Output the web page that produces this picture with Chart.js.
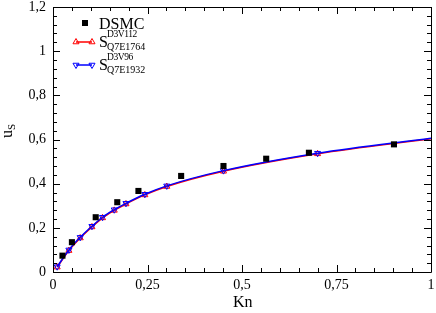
<!DOCTYPE html>
<html>
<head>
<meta charset="utf-8">
<script src="https://cdn.jsdelivr.net/npm/chart.js@4.4.1/dist/chart.umd.min.js"></script>
<style>
body { margin: 0; background: #fff; }
#chartjs { position: relative; width: 436px; height: 313px; font-family: "Liberation Serif", serif; color: #000; }
#chartjs canvas { position: absolute; left: 0; top: 0; }
.txt { position: absolute; white-space: nowrap; line-height: 1; }
#ytitle { left: -13px; top: 121px; width: 40px; height: 20px; line-height: 20px; font-size: 16px; text-align: center; transform: rotate(-90deg); }
#ytitle sub { font-size: 11px; vertical-align: -3px; }
</style>
</head>
<body>
<div id="chartjs">
	<canvas id="myChart" width="436" height="313"></canvas>
	<div id="ytitle" class="txt">u<sub>S</sub></div>
	<div class="txt" style="left:233px;top:294px;font-size:16px;">Kn</div>
	<div class="txt" style="left:99px;top:16px;font-size:16px;">DSMC</div>
	<div class="txt" style="left:99px;top:34px;font-size:16px;">S</div>
	<div class="txt" style="left:107px;top:30px;font-size:9.5px;letter-spacing:-0.4px;">D3V112</div>
	<div class="txt" style="left:107px;top:42px;font-size:10px;">Q7E1764</div>
	<div class="txt" style="left:99px;top:57px;font-size:16px;">S</div>
	<div class="txt" style="left:107px;top:53px;font-size:9.5px;letter-spacing:-0.4px;">D3V96</div>
	<div class="txt" style="left:107px;top:65px;font-size:10px;">Q7E1932</div>
</div>
<script>
// axes
const xTicks = [0, 0.25, 0.5, 0.75, 1];
const xTickLabels = ["0", "0,25", "0,5", "0,75", "1"];
const yTicks = [0, 0.2, 0.4, 0.6, 0.8, 1, 1.2];
const yTickLabels = ["0", "0,2", "0,4", "0,6", "0,8", "1", "1,2"];

// DSMC points
const dsmcKn = [0.025, 0.05, 0.113, 0.17, 0.226, 0.339, 0.451, 0.564, 0.677, 0.902];
const dsmcU = [0.074, 0.135, 0.248, 0.316, 0.367, 0.435, 0.480, 0.513, 0.540, 0.578];

// model curves (last point has no marker)
const curveKn = [0.011, 0.042, 0.072, 0.103, 0.131, 0.162, 0.193, 0.243, 0.301, 0.451, 0.700, 1.0];
const uD3V112 = [0.022, 0.097, 0.154, 0.204, 0.245, 0.279, 0.308, 0.349, 0.387, 0.456, 0.535, 0.603];
const uD3V96 = [0.024, 0.100, 0.157, 0.207, 0.248, 0.282, 0.311, 0.352, 0.390, 0.459, 0.538, 0.606];

function toPoints(xs, ys) {
	let pts = [];
	for (let i = 0; i < xs.length; i++) {
		pts.push({x: xs[i], y: ys[i]});
	}
	return pts;
}

function markerRadius(n, r) {
	let arr = [];
	for (let i = 0; i < n; i++) arr.push(i == n - 1 ? 0 : r);
	return arr;
}

// frame with inward ticks on all four sides + legend symbols
const framePlugin = {
	id: "frame",
	afterDatasetsDraw(chart) {
		const ctx = chart.ctx;
		const a = chart.chartArea;
		const xs = chart.scales.x, ys = chart.scales.y;
		ctx.save();
		ctx.strokeStyle = "#000";
		ctx.lineWidth = 1;
		ctx.beginPath();
		ctx.rect(Math.round(a.left) + 0.5, Math.round(a.top) + 0.5, Math.round(a.right - a.left), Math.round(a.bottom - a.top));
		ctx.stroke();
		ctx.beginPath();
		for (let i = 0; i <= 20; i++) {
			let v = i * 0.05;
			let len = (i % 5 == 0) ? 7 : 4;
			let px = Math.round(xs.getPixelForValue(v)) + 0.5;
			ctx.moveTo(px, a.bottom); ctx.lineTo(px, a.bottom - len);
			ctx.moveTo(px, a.top); ctx.lineTo(px, a.top + len);
		}
		for (let i = 0; i <= 30; i++) {
			let v = i * 0.04;
			let len = (i % 5 == 0) ? 7 : 4;
			let py = Math.round(ys.getPixelForValue(v)) + 0.5;
			ctx.moveTo(a.left, py); ctx.lineTo(a.left + len, py);
			ctx.moveTo(a.right, py); ctx.lineTo(a.right - len, py);
		}
		ctx.stroke();

		// legend symbols
		ctx.fillStyle = "#000";
		ctx.fillRect(82, 20, 6, 6);
		const rows = [{y: 42, color: "#ff0000", rot: 0}, {y: 65, color: "#0000ff", rot: 180}];
		rows.forEach(r => {
			ctx.strokeStyle = r.color;
			ctx.lineWidth = 1.5;
			ctx.beginPath();
			ctx.moveTo(76, r.y); ctx.lineTo(92, r.y);
			ctx.stroke();
			ctx.lineWidth = 1;
			ctx.fillStyle = "rgba(0,0,0,0)";
			[76, 92].forEach(x => {
				Chart.helpers.drawPoint(ctx, {pointStyle: "triangle", rotation: r.rot, radius: 3.5, borderWidth: 1}, x, r.y);
			});
		});
		ctx.restore();
	}
};

const data = {
	datasets: [{
		label: "DSMC",
		data: toPoints(dsmcKn, dsmcU),
		showLine: false,
		pointStyle: "rect",
		pointRadius: 4.3,
		pointBackgroundColor: "#000",
		pointBorderColor: "#000",
		pointBorderWidth: 0,
		order: 0
	}, {
		label: "S D3V96 Q7E1932",
		data: toPoints(curveKn, uD3V96),
		borderColor: "#0000ff",
		borderWidth: 1.5,
		cubicInterpolationMode: "monotone",
		pointStyle: "triangle",
		pointRotation: 180,
		pointRadius: markerRadius(curveKn.length, 3.5),
		pointBackgroundColor: "rgba(0,0,0,0)",
		pointBorderColor: "#0000ff",
		pointBorderWidth: 1,
		order: 1
	}, {
		label: "S D3V112 Q7E1764",
		data: toPoints(curveKn, uD3V112),
		borderColor: "#ff0000",
		borderWidth: 1.5,
		cubicInterpolationMode: "monotone",
		pointStyle: "triangle",
		pointRadius: markerRadius(curveKn.length, 3.5),
		pointBackgroundColor: "rgba(0,0,0,0)",
		pointBorderColor: "#ff0000",
		pointBorderWidth: 1,
		order: 2
	}]
};

const tickFont = {family: "Liberation Serif", size: 14};

const config = {
	type: "line",
	data: data,
	options: {
		responsive: false,
		animation: false,
		layout: {padding: {top: 7, right: 4, left: 0, bottom: 0}},
		plugins: {legend: {display: false}, tooltip: {enabled: false}},
		scales: {
			x: {
				type: "linear",
				min: 0, max: 1,
				grid: {display: false, drawTicks: false},
				border: {display: false},
				afterBuildTicks: s => { s.ticks = xTicks.map(v => ({value: v})); },
				afterFit: s => { s.height = 41; s.paddingLeft = 0; s.paddingRight = 0; },
				ticks: {
					color: "#000", font: tickFont, padding: 5, maxRotation: 0, autoSkip: false,
					callback: (v, i) => xTickLabels[i]
				}
			},
			y: {
				min: 0, max: 1.2,
				grid: {display: false, drawTicks: false},
				border: {display: false},
				afterBuildTicks: s => { s.ticks = yTicks.map(v => ({value: v})); },
				afterFit: s => { s.width = 53; s.paddingTop = 0; s.paddingBottom = 0; },
				ticks: {
					color: "#000", font: tickFont, padding: 7, autoSkip: false,
					callback: (v, i) => yTickLabels[i]
				}
			}
		}
	},
	plugins: [framePlugin]
};

let ctx = document.getElementById("myChart").getContext("2d");
new Chart(ctx, config);
</script>
</body>
</html>
